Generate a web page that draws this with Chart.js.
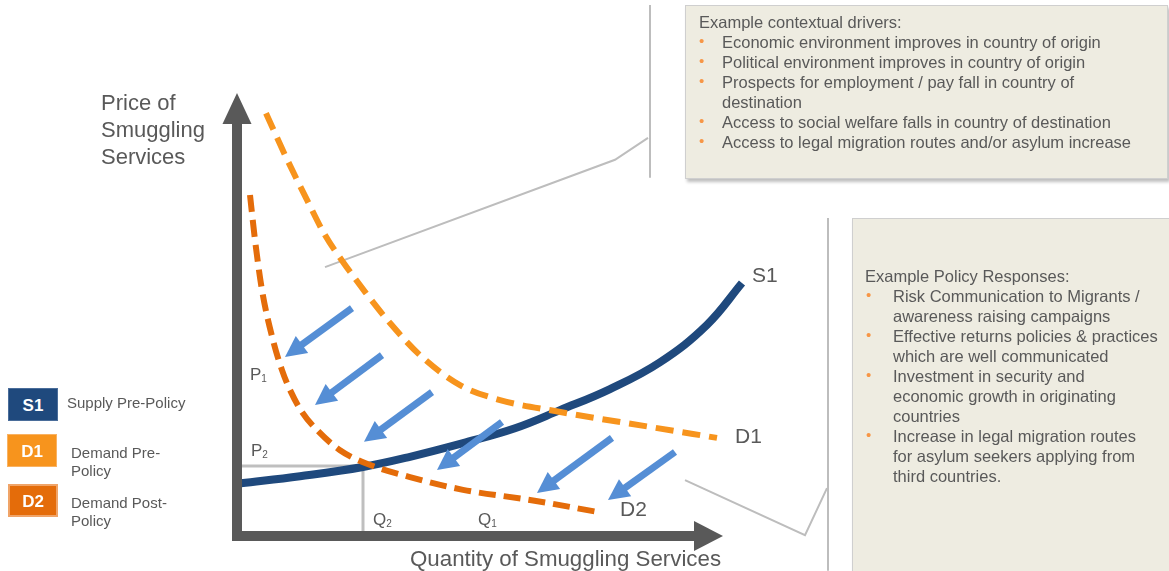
<!DOCTYPE html>
<html lang="en">
<head>
    <meta charset="UTF-8">
    <title>Market for Smuggling Services</title>
    <script src="https://cdn.jsdelivr.net/npm/chart.js"></script>
    <style>
        body {
            margin: 0;
            background: #ffffff;
            font-family: "Liberation Sans", Arial, sans-serif;
            color: #595959;
        }
        #wrap {
            position: relative;
            width: 1169px;
            height: 571px;
            overflow: hidden;
        }
        #wrap canvas {
            position: absolute;
            left: 0;
            top: 0;
        }
        .txt {
            position: absolute;
            white-space: nowrap;
        }
        .box {
            position: absolute;
            background: #eeece1;
            border: 1px solid #cfcfcf;
            box-shadow: 2px 3px 3px rgba(0, 0, 0, 0.25);
        }
        .boxText {
            position: absolute;
            font-size: 16.5px;
            line-height: 20px;
            white-space: nowrap;
        }
        .boxText .li {
            position: relative;
        }
        .boxText .dot {
            position: absolute;
            top: -1px;
            color: #f79646;
            font-size: 15px;
        }
        .key {
            position: absolute;
            width: 50px;
            height: 33px;
            color: #fff;
            font-weight: bold;
            font-size: 17px;
            line-height: 33px;
            text-align: center;
            box-sizing: border-box;
        }
        sub {
            font-size: 10px;
            vertical-align: -2px;
        }
    </style>
</head>
<body>
<div id="wrap">
    <canvas id="chart"></canvas>

    <div class="txt" style="left:101px; top:89px; font-size:22px; line-height:27px;">Price of<br>Smuggling<br>Services</div>
    <div class="txt" style="left:410px; top:548px; font-size:22.3px; line-height:22px;">Quantity of Smuggling Services</div>

    <div class="txt" style="left:752px; top:264px; font-size:21px; line-height:21px;">S1</div>
    <div class="txt" style="left:735px; top:425px; font-size:21px; line-height:21px;">D1</div>
    <div class="txt" style="left:620px; top:498px; font-size:21px; line-height:21px;">D2</div>
    <div class="txt" style="left:250px; top:366px; font-size:17px; line-height:17px;">P<sub>1</sub></div>
    <div class="txt" style="left:251px; top:442px; font-size:17px; line-height:17px;">P<sub>2</sub></div>
    <div class="txt" style="left:373px; top:511px; font-size:17px; line-height:17px;">Q<sub>2</sub></div>
    <div class="txt" style="left:478px; top:511px; font-size:17px; line-height:17px;">Q<sub>1</sub></div>

    <div class="key" style="left:8px; top:388px; background:#1f497d; border:1px solid #4a6d9a;">S1</div>
    <div class="key" style="left:7px; top:434px; background:#f7941d; border:1px solid #f9b262;">D1</div>
    <div class="key" style="left:8px; top:484px; background:#e46c0a; border:2px solid #f0a468; line-height:31px;">D2</div>
    <div class="txt" style="left:67px; top:395px; font-size:15px; line-height:15px;">Supply Pre-Policy</div>
    <div class="txt" style="left:71px; top:444px; font-size:15px; line-height:18px;">Demand Pre-<br>Policy</div>
    <div class="txt" style="left:71px; top:494px; font-size:15px; line-height:18px;">Demand Post-<br>Policy</div>

    <div class="box" style="left:685px; top:5px; width:481px; height:172px;"></div>
    <div class="boxText" id="driversText" style="left:699px; top:12px;"></div>

    <div class="box" style="left:852px; top:218px; width:340px; height:370px;"></div>
    <div class="boxText" id="policyText" style="left:865px; top:266px;"></div>
</div>

<script>
    // Curves: [quantity, price] in arbitrary units
    const s1Curve = [
        [0.08, 1.20], [1.26, 1.36], [2.52, 1.57], [3.46, 1.80], [4.52, 2.11], [5.56, 2.45],
        [6.46, 2.86], [7.46, 3.34], [8.46, 3.95], [9.40, 4.80], [10.10, 5.75]
    ];
    const d1Curve = [
        [0.58, 9.61], [0.96, 8.66], [1.40, 7.64], [1.76, 6.84], [2.12, 6.23], [2.56, 5.55],
        [3.06, 4.84], [3.66, 4.11], [4.46, 3.43], [5.26, 3.09], [6.36, 2.84], [8.26, 2.48], [9.60, 2.23]
    ];
    const d2Curve = [
        [0.26, 7.75], [0.36, 6.73], [0.50, 5.59], [0.72, 4.45], [0.90, 3.77], [1.06, 3.32],
        [1.30, 2.82], [1.60, 2.41], [2.06, 1.95], [2.56, 1.66], [3.46, 1.34], [4.52, 1.05],
        [5.86, 0.82], [7.20, 0.55]
    ];
    // new equilibrium guides (P2 / Q2)
    const priceGuide = [[0.1, 1.59], [2.52, 1.59]];
    const quantityGuide = [[2.52, 1.59], [2.52, 0.1]];

    // demand shift arrows: [fromX, fromY, toX, toY]
    const shiftArrows = [
        [2.30, 5.18, 0.96, 4.07],
        [2.90, 4.11, 1.56, 2.98],
        [3.90, 3.27, 2.54, 2.14],
        [5.30, 2.59, 4.00, 1.50],
        [7.50, 2.23, 6.00, 0.98],
        [8.76, 1.91, 7.42, 0.82]
    ];
    const priceAxis = [[0, -0.11], [0, 10.07]];
    const quantityAxis = [[-0.1, 0], [9.72, 0]];

    // callout connectors to the text boxes
    const driversCallout = [[1.76, 6.11], [7.56, 8.55], [8.22, 9.05]];
    const driversEdge = [[8.26, 12.07], [8.26, 8.14]];
    const policyCallout = [[8.96, 1.27], [11.36, 0.02], [11.80, 1.09]];
    const policyEdge = [[11.82, 7.23], [11.82, -0.79]];

    const driversTitle = 'Example contextual drivers:';
    const driversItems = [
        ['Economic environment improves in country of origin'],
        ['Political environment improves in country of origin'],
        ['Prospects for employment  / pay fall in country of', 'destination'],
        ['Access to social welfare falls in country of destination'],
        ['Access to legal migration routes and/or asylum increase']
    ];
    const policyTitle = 'Example Policy Responses:';
    const policyItems = [
        ['Risk Communication to Migrants /', 'awareness raising campaigns'],
        ['Effective returns policies & practices', 'which are well communicated'],
        ['Investment in security and', 'economic growth in originating', 'countries'],
        ['Increase in legal migration routes', 'for asylum seekers applying from', 'third countries.']
    ];

    function fillBox(el, title, items, indent, dotLeft) {
        let html = '<div>' + title + '</div>';
        items.forEach(lines => {
            html += '<div class="li" style="padding-left:' + indent + 'px">' +
                '<span class="dot" style="left:' + dotLeft + 'px">&#8226;</span>' +
                lines.map(l => l.replace(/&/g, '&amp;')).join('<br>') + '</div>';
        });
        el.innerHTML = html;
    }
    fillBox(document.getElementById('driversText'), driversTitle, driversItems, 23, 0);
    fillBox(document.getElementById('policyText'), policyTitle, policyItems, 28, 1);

    const pts = arr => arr.map(([x, y]) => ({ x: x, y: y }));

    function lineSet(arr, color, width, extra) {
        return Object.assign({
            data: pts(arr),
            showLine: true,
            borderColor: color,
            borderWidth: width,
            pointRadius: 0,
            fill: false,
            clip: false
        }, extra || {});
    }

    function arrowSet(arr, color, width, headLen, headWidth) {
        return {
            data: pts(arr),
            showLine: false,
            pointRadius: 0,
            clip: false,
            arrow: { color: color, width: width, headLen: headLen, headWidth: headWidth }
        };
    }

    // draws shaft + head for datasets carrying an "arrow" setting
    const arrowPlugin = {
        id: 'arrows',
        afterDatasetsDraw(chart) {
            const ctx = chart.ctx;
            chart.data.datasets.forEach((ds, i) => {
                if (!ds.arrow) return;
                const els = chart.getDatasetMeta(i).data;
                const a = els[0], b = els[els.length - 1];
                const dx = b.x - a.x, dy = b.y - a.y;
                const len = Math.hypot(dx, dy);
                const ux = dx / len, uy = dy / len;
                const o = ds.arrow;
                const bx = b.x - ux * o.headLen, by = b.y - uy * o.headLen;
                ctx.save();
                ctx.strokeStyle = o.color;
                ctx.fillStyle = o.color;
                ctx.lineWidth = o.width;
                ctx.lineCap = 'butt';
                ctx.beginPath();
                ctx.moveTo(a.x, a.y);
                ctx.lineTo(bx + ux, by + uy);
                ctx.stroke();
                ctx.beginPath();
                ctx.moveTo(b.x, b.y);
                ctx.lineTo(bx - uy * o.headWidth / 2, by + ux * o.headWidth / 2);
                ctx.lineTo(bx + uy * o.headWidth / 2, by - ux * o.headWidth / 2);
                ctx.closePath();
                ctx.fill();
                ctx.restore();
            });
        }
    };

    const datasets = [
        lineSet(d1Curve, '#f7941d', 6, { borderDash: [18, 9], cubicInterpolationMode: 'monotone' }),
        lineSet(d2Curve, '#e46c0a', 6, { borderDash: [17, 8], cubicInterpolationMode: 'monotone' }),
        lineSet(s1Curve, '#1f497d', 8, { tension: 0.4 }),
        lineSet(priceGuide, '#bfbfbf', 3),
        lineSet(quantityGuide, '#bfbfbf', 3),
        lineSet(driversCallout, '#bdbdbd', 2),
        lineSet(driversEdge, '#bdbdbd', 2),
        lineSet(policyCallout, '#bdbdbd', 2),
        lineSet(policyEdge, '#bdbdbd', 2),
        arrowSet(priceAxis, '#595959', 10, 31, 29),
        arrowSet(quantityAxis, '#595959', 10, 29, 30)
    ];
    shiftArrows.forEach(a => {
        datasets.push(arrowSet([[a[0], a[1]], [a[2], a[3]]], '#558ed5', 7, 21, 21));
    });

    // whole canvas is the plot area: 50 px per quantity unit, 44 px per price unit,
    // origin at the corner of the drawn axes
    const ctx = document.getElementById('chart').getContext('2d');
    new Chart(ctx, {
        type: 'scatter',
        data: { datasets: datasets },
        options: {
            responsive: true,
            maintainAspectRatio: false,
            animation: false,
            layout: { padding: 0 },
            plugins: {
                legend: { display: false },
                tooltip: { enabled: false }
            },
            scales: {
                x: { type: 'linear', min: -4.74, max: 18.64, display: false },
                y: { type: 'linear', min: -0.795, max: 12.182, display: false }
            }
        },
        plugins: [arrowPlugin]
    });
</script>
</body>
</html>
